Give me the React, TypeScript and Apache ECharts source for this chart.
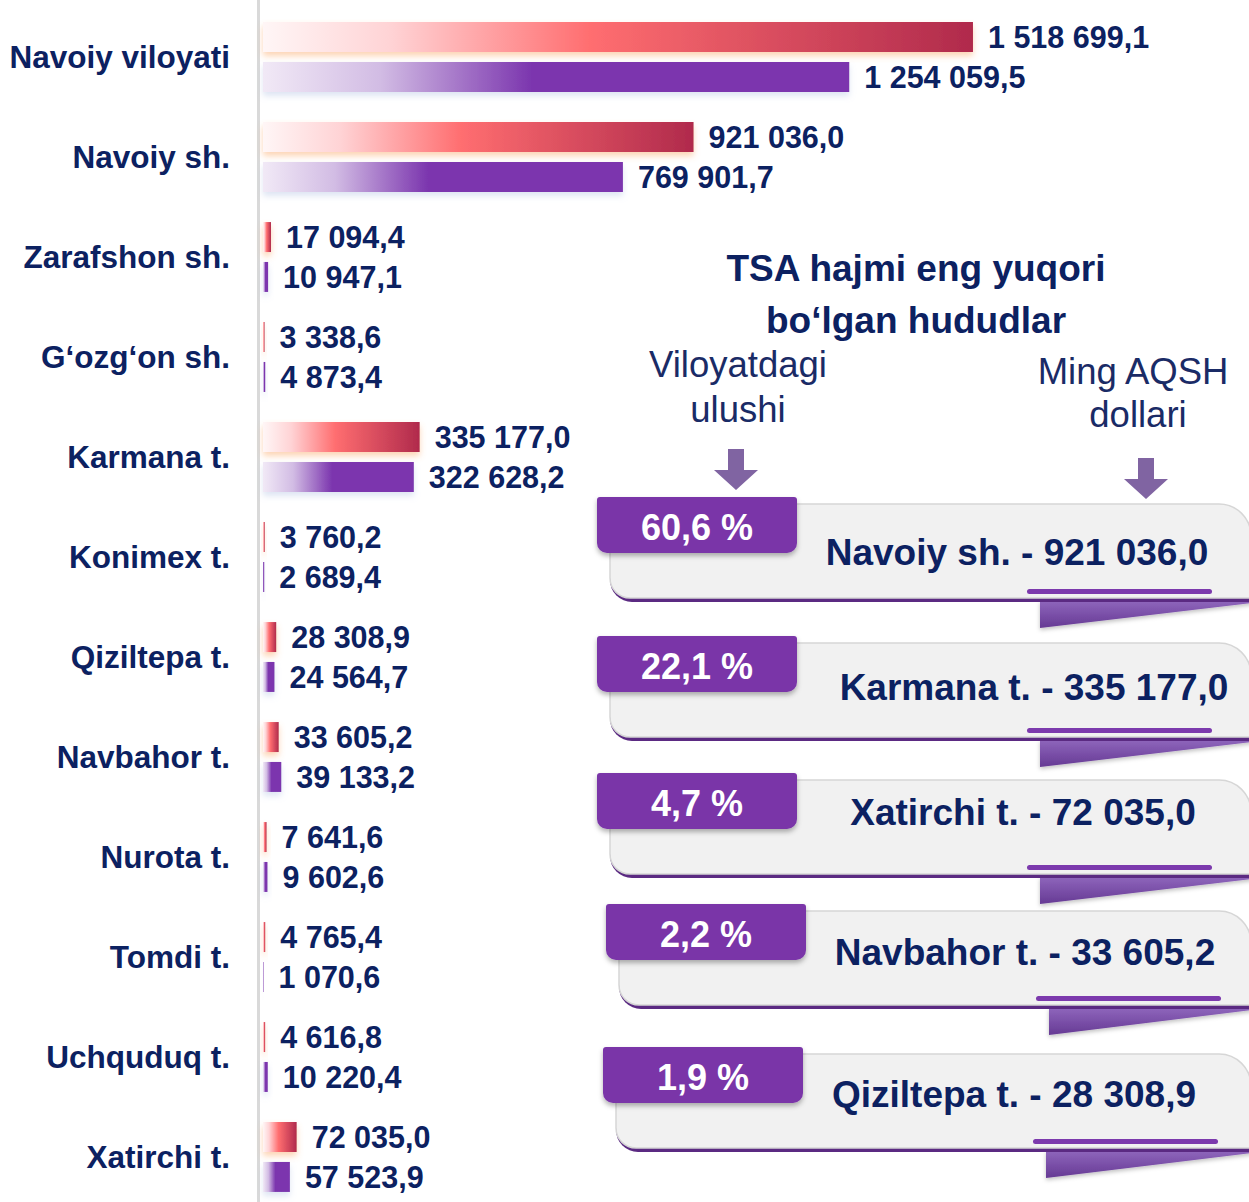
import React, { useEffect, useRef } from "react";
import * as echarts from "echarts";

const categories = [
  "Navoiy viloyati",
  "Navoiy sh.",
  "Zarafshon sh.",
  "G‘ozg‘on sh.",
  "Karmana t.",
  "Konimex t.",
  "Qiziltepa t.",
  "Navbahor t.",
  "Nurota t.",
  "Tomdi t.",
  "Uchquduq t.",
  "Xatirchi t.",
];
const seriesA = [1518699.1, 921036.0, 17094.4, 3338.6, 335177.0, 3760.2, 28308.9, 33605.2, 7641.6, 4765.4, 4616.8, 72035.0];
const seriesB = [1254059.5, 769901.7, 10947.1, 4873.4, 322628.2, 2689.4, 24564.7, 39133.2, 9602.6, 1070.6, 10220.4, 57523.9];

const panelTitle = ["TSA hajmi eng yuqori", "bo‘lgan hududlar"];
const shareHeading = ["Viloyatdagi", "ulushi"];
const unitHeading = ["Ming AQSH", "dollari"];
const topShares = ["60,6 %", "22,1 %", "4,7 %", "2,2 %", "1,9 %"];
const topNames = ["Navoiy sh.", "Karmana t.", "Xatirchi t.", "Navbahor t.", "Qiziltepa t."];
const topValues = [921036.0, 335177.0, 72035.0, 33605.2, 28308.9];

// layout of the cards (positions only)
const cardTops = [497, 636, 773, 904, 1047];
const cardLefts = [597, 597, 597, 606, 603];
const cardTextX = [1017, 1034, 1023, 1025, 1014];
const cardTextY = [552, 687, 812, 952, 1094];

const FONT = "'Liberation Sans', Arial, sans-serif";
const NAVY = "#0c2161";

function fmt(n: number): string {
  const [i, d] = n.toFixed(1).split(".");
  return i.replace(/\B(?=(\d{3})+(?!\d))/g, " ") + "," + d;
}

function txt(text: string, x: number, y: number, size: number, weight: string, fill: string) {
  return {
    type: "text",
    silent: true,
    style: {
      text,
      x,
      y,
      fill,
      font: `${weight} ${size}px ${FONT}`,
      align: "center",
      verticalAlign: "middle",
      textAlign: "center",
      textVerticalAlign: "middle",
    },
    z: 20,
  };
}

function arrow(cx: number, top: number) {
  return {
    type: "polygon",
    silent: true,
    shape: {
      points: [
        [cx - 8, top],
        [cx + 8, top],
        [cx + 8, top + 21],
        [cx + 22, top + 21],
        [cx, top + 41],
        [cx - 22, top + 21],
        [cx - 8, top + 21],
      ],
    },
    style: { fill: "#8064a2" },
    z: 10,
  };
}

function card(i: number) {
  const T = cardTops[i];
  const X = cardLefts[i];
  const els: any[] = [];
  els.push({
    type: "polygon",
    silent: true,
    shape: { points: [[X + 443, T + 104], [1252, T + 101], [1252, T + 106], [X + 443, T + 131]] },
    style: {
      fill: new echarts.graphic.LinearGradient(0, 0, 0, 1, [
        { offset: 0, color: "#936ac0" },
        { offset: 1, color: "#663a94" },
      ]),
      shadowBlur: 4,
      shadowOffsetY: 2,
      shadowColor: "rgba(0,0,0,0.25)",
    },
    z: 5,
  });
  els.push({
    type: "rect",
    silent: true,
    shape: { x: X + 13, y: T + 40, width: 1252 - (X + 13), height: 65, r: [0, 0, 0, 22] },
    style: { fill: "#5b2a82" },
    z: 6,
  });
  els.push({
    type: "rect",
    silent: true,
    shape: { x: X + 13, y: T + 7, width: 1251 - (X + 13), height: 94, r: [0, 32, 0, 20] },
    style: { fill: "#f1f1f1", stroke: "#d6d6d6", lineWidth: 1.5 },
    z: 7,
  });
  els.push({
    type: "rect",
    silent: true,
    shape: { x: X + 430, y: T + 92, width: 185, height: 5, r: 2.5 },
    style: { fill: "#7c3aad" },
    z: 8,
  });
  els.push({
    type: "rect",
    silent: true,
    shape: { x: X, y: T, width: 200, height: 56, r: [3, 3, 10, 10] },
    style: { fill: "#7a35a8", shadowBlur: 5, shadowOffsetY: 3, shadowColor: "rgba(0,0,0,0.3)" },
    z: 9,
  });
  els.push(txt(topShares[i], X + 100, T + 30, 36, "bold", "#ffffff"));
  els.push(txt(`${topNames[i]} - ${fmt(topValues[i])}`, cardTextX[i], cardTextY[i], 37, "bold", NAVY));
  return els;
}

export default function App() {
  const ref = useRef<HTMLDivElement>(null);
  useEffect(() => {
    if (!ref.current) return;
    const chart = echarts.init(ref.current, undefined, { renderer: "svg" });

    const redGrad = new echarts.graphic.LinearGradient(0, 0, 1, 0, [
      { offset: 0, color: "#fff6f6" },
      { offset: 0.18, color: "#ffd3d5" },
      { offset: 0.46, color: "#ff6e70" },
      { offset: 1, color: "#b02a4c" },
    ]);
    const purpleGrad = new echarts.graphic.LinearGradient(0, 0, 1, 0, [
      { offset: 0, color: "#f1e9f6" },
      { offset: 0.2, color: "#d2bce4" },
      { offset: 0.46, color: "#7b35ae" },
      { offset: 1, color: "#7b35ae" },
    ]);

    const labelStyle = {
      show: true,
      position: "right",
      distance: 15,
      color: NAVY,
      fontWeight: "bold",
      fontSize: 30.5,
      fontFamily: FONT,
      formatter: (p: any) => fmt(p.value),
    };

    const graphics: any[] = [
      {
        type: "line",
        silent: true,
        shape: { x1: 258.5, y1: 0, x2: 258.5, y2: 1210 },
        style: { stroke: "#d9d9d9", lineWidth: 3 },
        z: 1,
      },
      txt(panelTitle[0], 916, 268, 37, "bold", NAVY),
      txt(panelTitle[1], 916, 320, 37, "bold", NAVY),
      txt(shareHeading[0], 738, 364, 36.5, "normal", "#1a2b66"),
      txt(shareHeading[1], 738, 409, 36.5, "normal", "#1a2b66"),
      txt(unitHeading[0], 1133, 371, 36.5, "normal", "#1a2b66"),
      txt(unitHeading[1], 1138, 414, 36.5, "normal", "#1a2b66"),
      arrow(736, 449),
      arrow(1146, 458),
    ];
    for (let i = 0; i < topShares.length; i++) graphics.push(...card(i));

    chart.setOption({
      animation: false,
      backgroundColor: "#ffffff",
      grid: { left: 263, right: 1, top: 7, height: 1200, containLabel: false },
      xAxis: {
        type: "value",
        min: 0,
        max: 2107000,
        show: false,
        splitLine: { show: false },
      },
      yAxis: {
        type: "category",
        inverse: true,
        data: categories,
        axisLine: { show: false },
        axisTick: { show: false },
        axisLabel: {
          margin: 33,
          color: NAVY,
          fontWeight: "bold",
          fontSize: 31.5,
          fontFamily: FONT,
        },
      },
      series: [
        {
          name: "A",
          type: "bar",
          data: seriesA,
          barWidth: 30,
          barGap: "33%",
          itemStyle: {
            color: redGrad,
            shadowBlur: 6,
            shadowOffsetY: 4,
            shadowColor: "rgba(250,160,90,0.45)",
          },
          label: labelStyle,
        },
        {
          name: "B",
          type: "bar",
          data: seriesB,
          barWidth: 30,
          itemStyle: {
            color: purpleGrad,
            shadowBlur: 6,
            shadowOffsetY: 4,
            shadowColor: "rgba(160,180,220,0.35)",
          },
          label: labelStyle,
        },
      ],
      graphic: graphics,
    });
    return () => chart.dispose();
  }, []);
  return (
    <div style={{ position: "absolute", left: 0, top: 0, width: 1249, height: 1202, overflow: "hidden" }}>
      <div ref={ref} style={{ width: 1249, height: 1222 }} />
    </div>
  );
}
